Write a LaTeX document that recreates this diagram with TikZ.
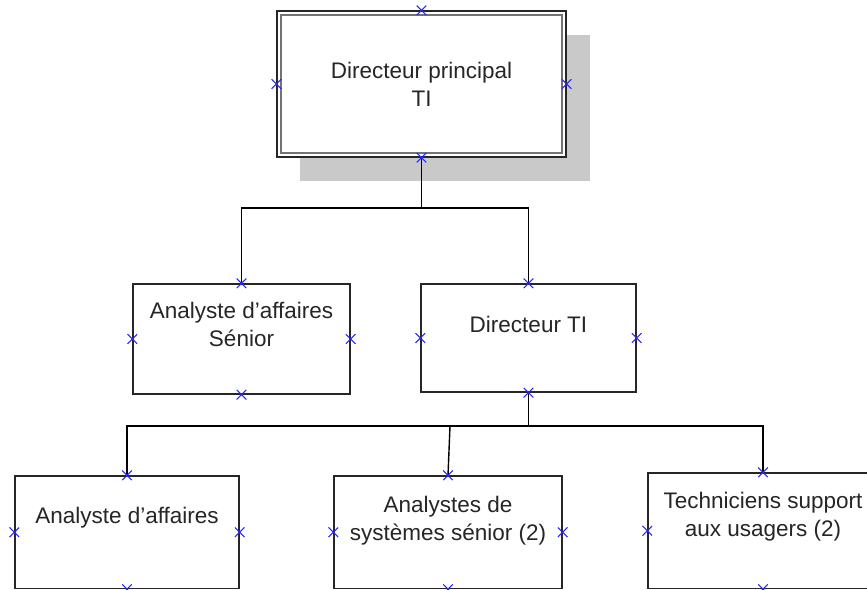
\documentclass[tikz,border=0pt]{standalone}
\usepackage{fontspec}
\setmainfont{Liberation Sans}
\usetikzlibrary{shapes.misc}
\begin{document}
\begin{tikzpicture}[x=1pt,y=-1pt,
  box/.style={draw=black!85, line width=1.4pt, fill=white, inner sep=0pt},
  txt/.style={font=\fontsize{22.5}{28}\selectfont, text=black!85, align=center, inner sep=0pt},
  conn/.style={draw=black, line width=1.4pt},
  mk/.style={draw=blue!85!white, line width=1.1pt, cross out, minimum size=8.5pt, inner sep=0pt}]
\clip (0,0) rectangle (867,589);
\fill[white] (0,0) rectangle (867,589);
% shadow of the top box
\fill[black!21] (300,35) rectangle (590,181);
% top box (double border)
\node[box, line width=1.2pt, minimum width=289pt, minimum height=146pt] (top) at (421.5,84) {};
\draw[black!55, line width=1.8pt] ([shift={(4.5pt,-4.5pt)}]top.north west) rectangle ([shift={(-4.5pt,4.5pt)}]top.south east);
\node[txt] (ttop) at (421.5,84.5) {Directeur principal\\TI};
% middle row
\node[box, minimum width=217pt, minimum height=110pt] (sen) at (241.5,339) {};
\node[txt] (tsen) at (241.5,324.5) {Analyste d'affaires\\Sénior};
\node[box, minimum width=215pt, minimum height=108pt] (dti) at (528.5,338) {};
\node[txt] (tdti) at (528.5,324) {Directeur TI};
% bottom row
\node[box, minimum width=224pt, minimum height=112.5pt] (b1) at (127,532.25) {};
\node[txt] (tb1) at (127,518) {Analyste d'affaires};
\node[box, minimum width=228pt, minimum height=112.5pt] (b2) at (448,532.25) {};
\node[txt] (tb2) at (448,521) {Analystes de\\systèmes sénior (2)};
\node[box, minimum width=230pt, minimum height=115.5pt] (b3) at (763,530.75) {};
\node[txt] (tb3) at (763,517) {Techniciens support\\aux usagers (2)};
% connectors
\coordinate (j1) at (421.5,208);
\coordinate (j2) at (528.5,426);
\coordinate (j3) at (450,426);
\draw[conn] (top.south) -- (j1);
\draw[conn] (sen.north) |- (j1) -| (dti.north);
\draw[conn] (dti.south) -- (j2);
\draw[conn] (b1.north) |- (j2) -| (b3.north);
\draw[conn] (j3) -- (b2.north);
% connection point markers
\foreach \b in {top,sen,dti,b1,b2,b3}{
  \foreach \a in {north,south,east,west}{
    \node[mk] (m-\b-\a) at (\b.\a) {};
  }
}
\end{tikzpicture}
\end{document}
